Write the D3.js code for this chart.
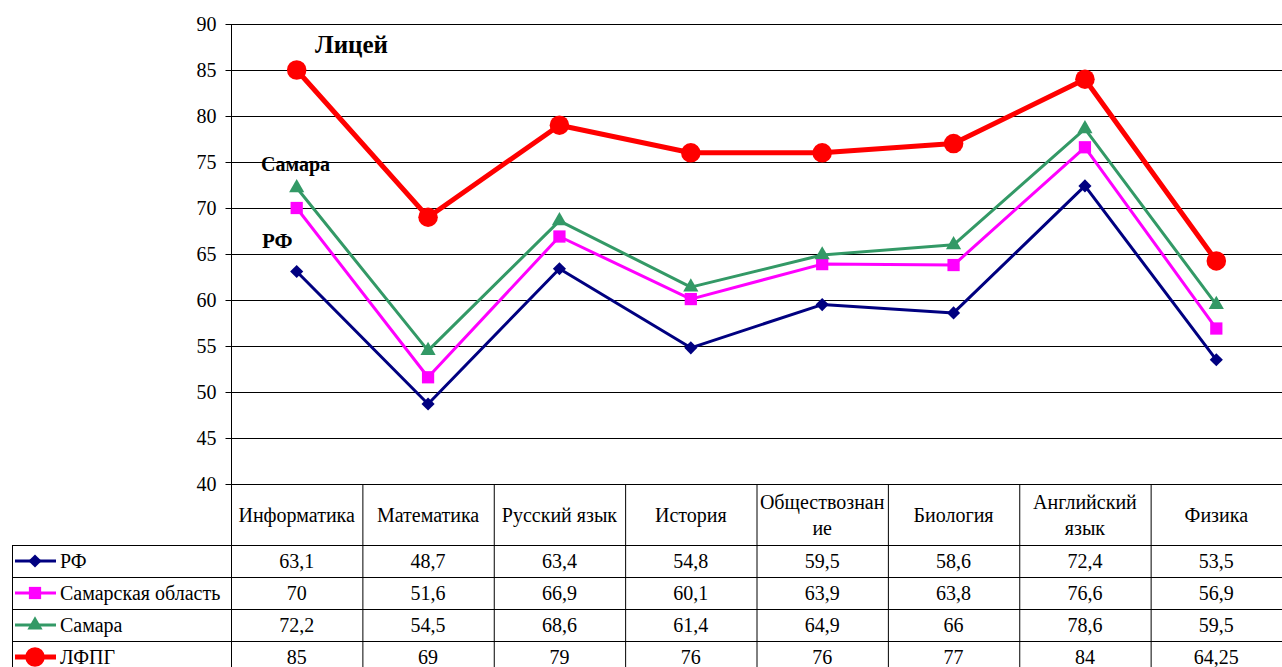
<!DOCTYPE html>
<html>
<head>
<meta charset="utf-8">
<script src="https://cdn.jsdelivr.net/npm/d3@7"></script>
<style>
  body { margin: 0; background: #fff; }
</style>
</head>
<body>
<div class="chart"></div>
<script>
// subjects and results
var categories = ['Информатика', 'Математика', 'Русский язык', 'История', 'Обществознание', 'Биология', 'Английский язык', 'Физика'];
var headerLines = [['Информатика'], ['Математика'], ['Русский язык'], ['История'], ['Обществознан', 'ие'], ['Биология'], ['Английский', 'язык'], ['Физика']];

var seriesNames = ['РФ', 'Самарская область', 'Самара', 'ЛФПГ'];
var rf = [63.1, 48.7, 63.4, 54.8, 59.5, 58.6, 72.4, 53.5];
var samObl = [70, 51.6, 66.9, 60.1, 63.9, 63.8, 76.6, 56.9];
var samara = [72.2, 54.5, 68.6, 61.4, 64.9, 66, 78.6, 59.5];
var lfpg = [85, 69, 79, 76, 76, 77, 84, 64.25];
var tableLabels = [
  ['63,1', '48,7', '63,4', '54,8', '59,5', '58,6', '72,4', '53,5'],
  ['70', '51,6', '66,9', '60,1', '63,9', '63,8', '76,6', '56,9'],
  ['72,2', '54,5', '68,6', '61,4', '64,9', '66', '78,6', '59,5'],
  ['85', '69', '79', '76', '76', '77', '84', '64,25']
];
var yTicks = [40, 45, 50, 55, 60, 65, 70, 75, 80, 85, 90];

var series = [
  { name: seriesNames[0], values: rf, color: '#000080', width: 3, marker: 'diamond' },
  { name: seriesNames[1], values: samObl, color: '#ff00ff', width: 3, marker: 'square' },
  { name: seriesNames[2], values: samara, color: '#339966', width: 3, marker: 'triangle' },
  { name: seriesNames[3], values: lfpg, color: '#ff0000', width: 5, marker: 'circle' }
];

var W = 1282, H = 667;
var margin = { top: 24, right: 1282, bottom: 484, left: 231 };
var headerH = 61, rowH = 32, tableLeft = 12;
var serif = "'Liberation Serif'";
var tableFont = 20;

var svg = d3.select('.chart')
  .append('svg')
    .attr('width', W)
    .attr('height', H)
    .attr('font-family', serif);

var xScale = d3.scaleBand()
  .domain(categories)
  .range([margin.left, margin.right])
  .padding(0);

var yScale = d3.scaleLinear()
  .domain([40, 90])
  .range([margin.bottom, margin.top]);

var cx = function(i) { return xScale(categories[i]) + xScale.bandwidth() / 2; };

// gridlines
svg.append('g')
  .selectAll('line')
  .data(yTicks)
  .join('line')
    .attr('x1', margin.left)
    .attr('x2', margin.right)
    .attr('y1', d => Math.round(yScale(d)) + 0.5)
    .attr('y2', d => Math.round(yScale(d)) + 0.5)
    .attr('stroke', '#000')
    .attr('stroke-width', 1);

// y axis
var yAxis = d3.axisLeft(yScale)
  .tickValues(yTicks)
  .tickSize(6)
  .tickPadding(9);

svg.append('g')
    .attr('transform', `translate(${margin.left + 0.5}, 0)`)
  .call(yAxis)
  .call(g => g.attr('font-family', serif))
  .call(g => g.select('.domain').remove())
  .call(g => g.selectAll('text')
    .attr('font-family', serif)
    .attr('font-size', 20)
    .attr('fill', '#000'));

svg.append('line')
  .attr('x1', margin.left + 0.5).attr('x2', margin.left + 0.5)
  .attr('y1', margin.top).attr('y2', H)
  .attr('stroke', '#000');

// data table
var tbl = svg.append('g');
var rowsTop = margin.bottom + headerH;

// horizontal table lines
[margin.bottom].concat(d3.range(5).map(i => rowsTop + i * rowH)).forEach(function(y, i) {
  tbl.append('line')
    .attr('x1', i === 0 ? margin.left : tableLeft)
    .attr('x2', margin.right)
    .attr('y1', y + 0.5).attr('y2', y + 0.5)
    .attr('stroke', '#000');
});
// vertical lines between categories
categories.forEach(function(c, i) {
  if (i === 0) return;
  tbl.append('line')
    .attr('x1', xScale(c) + 0.5).attr('x2', xScale(c) + 0.5)
    .attr('y1', margin.bottom).attr('y2', H)
    .attr('stroke', '#000');
});
tbl.append('line')
  .attr('x1', tableLeft + 0.5).attr('x2', tableLeft + 0.5)
  .attr('y1', rowsTop).attr('y2', H)
  .attr('stroke', '#000');

// header labels
headerLines.forEach(function(lines, i) {
  var t = tbl.append('text')
    .attr('x', cx(i))
    .attr('text-anchor', 'middle')
    .attr('font-family', serif)
    .attr('font-size', tableFont);
  var y0 = margin.bottom + headerH / 2 - (lines.length - 1) * 13 + 7;
  lines.forEach(function(l, j) {
    t.append('tspan').attr('x', cx(i)).attr('y', y0 + j * 26).text(l);
  });
});

// values
tableLabels.forEach(function(row, r) {
  row.forEach(function(v, i) {
    tbl.append('text')
      .attr('x', cx(i))
      .attr('y', rowsTop + r * rowH + rowH / 2 + 7)
      .attr('text-anchor', 'middle')
      .attr('font-family', serif)
      .attr('font-size', tableFont)
      .text(v);
  });
});

// marker shapes
var symbolFor = {
  diamond: d3.symbol().type(d3.symbolDiamond2).size(110),
  square: d3.symbol().type(d3.symbolSquare).size(150),
  triangle: d3.symbol().type(d3.symbolTriangle).size(100),
  circle: d3.symbol().type(d3.symbolCircle).size(300)
};

// legend keys in table
series.forEach(function(s, r) {
  var y = rowsTop + r * rowH + rowH / 2;
  var g = tbl.append('g');
  g.append('line')
    .attr('x1', 15).attr('x2', 56)
    .attr('y1', y).attr('y2', y)
    .attr('stroke', s.color)
    .attr('stroke-width', s.width);
  g.append('path')
    .attr('d', symbolFor[s.marker]())
    .attr('transform', `translate(35, ${y})`)
    .attr('fill', s.color);
  g.append('text')
    .attr('x', 60)
    .attr('y', y + 7)
    .attr('font-family', serif)
    .attr('font-size', tableFont)
    .text(s.name);
});

// lines and markers
var line = d3.line()
  .x((d, i) => cx(i))
  .y(d => yScale(d));

series.forEach(function(s) {
  svg.append('path')
    .datum(s.values)
    .attr('d', line)
    .attr('fill', 'none')
    .attr('stroke', s.color)
    .attr('stroke-width', s.width)
    .attr('stroke-linejoin', 'round');
  svg.append('g')
    .selectAll('path')
    .data(s.values)
    .join('path')
      .attr('d', symbolFor[s.marker]())
      .attr('transform', (d, i) => `translate(${cx(i)}, ${yScale(d)})`)
      .attr('fill', s.color);
});

// annotations
svg.append('text')
  .attr('x', 315).attr('y', 53)
  .attr('font-family', serif)
  .attr('font-size', 25)
  .attr('font-weight', 'bold')
  .text('Лицей');
svg.append('text')
  .attr('x', 261).attr('y', 171)
  .attr('font-family', serif)
  .attr('font-size', 20)
  .attr('font-weight', 'bold')
  .text('Самара');
svg.append('text')
  .attr('x', 262).attr('y', 248)
  .attr('font-family', serif)
  .attr('font-size', 21)
  .attr('font-weight', 'bold')
  .text('РФ');
</script>
</body>
</html>
